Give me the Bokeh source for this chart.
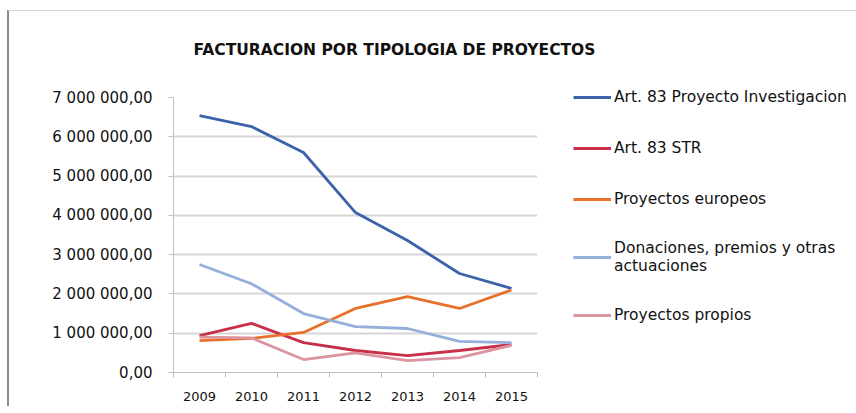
from bokeh.plotting import figure
from bokeh.models import FixedTicker, Legend, LegendItem, Range1d, Title
from bokeh.embed import file_html
from bokeh.resources import INLINE

title_text = "FACTURACION POR TIPOLOGIA DE PROYECTOS"
years = [2009, 2010, 2011, 2012, 2013, 2014, 2015]
year_labels = ["2009", "2010", "2011", "2012", "2013", "2014", "2015"]

art83_inv = [6540000, 6260000, 5600000, 4070000, 3360000, 2520000, 2140000]
art83_str = [940000, 1250000, 760000, 560000, 430000, 560000, 710000]
europeos = [810000, 870000, 1020000, 1630000, 1930000, 1630000, 2100000]
donaciones = [2750000, 2260000, 1500000, 1170000, 1120000, 790000, 760000]
propios = [900000, 880000, 330000, 500000, 300000, 380000, 690000]

series_names = [
    "Art. 83 Proyecto Investigacion",
    "Art. 83 STR",
    "Proyectos europeos",
    "Donaciones, premios y otras\nactuaciones",
    "Proyectos propios",
]
series_values = [art83_inv, art83_str, europeos, donaciones, propios]
series_colors = ["#3C62AA", "#C8304A", "#E8702A", "#94B0DA", "#DB95A0"]

y_ticks = [0, 1000000, 2000000, 3000000, 4000000, 5000000, 6000000, 7000000]
y_labels = ["0,00", "1 000 000,00", "2 000 000,00", "3 000 000,00",
            "4 000 000,00", "5 000 000,00", "6 000 000,00", "7 000 000,00"]

p = figure(frame_width=364, frame_height=275, output_backend="svg",
           toolbar_location=None,
           x_range=Range1d(2008.5, 2015.5), y_range=Range1d(0, 7000000),
           min_border_left=164, min_border_right=310, min_border_top=86,
           min_border_bottom=34)
p.styles = {"margin-left": "7px", "margin-top": "10px",
            "border-left": "2px solid #8C8C8C", "border-top": "1px solid #D6D6D6"}
p.outline_line_color = None
p.background_fill_color = "white"
p.border_fill_color = "white"

# spacer between title and plot area, then the title itself
spacer = Title(text=" ", text_font_size="1px", standoff=36)
p.add_layout(spacer, "above")
t = Title(text=title_text, align="left", offset=20, standoff=0,
          text_font="DejaVu Sans", text_font_size="15.5px",
          text_font_style="bold", text_color="#111111")
p.add_layout(t, "above")

renderers = []
for vals, col in zip(series_values, series_colors):
    r = p.line(years, vals, line_color=col, line_width=2.8)
    renderers.append(r)

# axes
p.xaxis.ticker = FixedTicker(ticks=years,
                             minor_ticks=[2008.5 + i for i in range(8)])
p.xaxis.major_label_overrides = {y: l for y, l in zip(years, year_labels)}
p.xaxis.major_tick_out = 0
p.xaxis.major_tick_in = 0
p.xaxis.minor_tick_out = 5
p.xaxis.minor_tick_in = 0
p.xaxis.minor_tick_line_color = "#BFBFBF"
p.xaxis.axis_line_color = "#BFBFBF"
p.xaxis.major_label_text_font = "DejaVu Sans"
p.xaxis.major_label_text_font_size = "13px"
p.xaxis.major_label_text_color = "#111111"
p.xaxis.major_label_standoff = 14

p.yaxis.ticker = FixedTicker(ticks=y_ticks)
p.yaxis.major_label_overrides = {v: l for v, l in zip(y_ticks, y_labels)}
p.yaxis.major_tick_out = 5
p.yaxis.major_tick_in = 0
p.yaxis.minor_tick_line_color = None
p.yaxis.major_tick_line_color = "#BFBFBF"
p.yaxis.axis_line_color = "#BFBFBF"
p.yaxis.major_label_text_font = "DejaVu Sans"
p.yaxis.major_label_text_font_size = "15px"
p.yaxis.major_label_text_color = "#111111"
p.yaxis.major_label_standoff = 16

p.xgrid.grid_line_color = None
p.ygrid.grid_line_color = "#D6D6D6"
p.ygrid.grid_line_width = 2

items = [LegendItem(label=n, renderers=[r]) for n, r in zip(series_names, renderers)]
legend = Legend(items=items, location=(36, 46), margin=0, padding=0,
                glyph_width=38, glyph_height=22, label_standoff=3,
                label_height=22, spacing=29,
                label_text_font="DejaVu Sans", label_text_font_size="15.5px",
                label_text_line_height=1.0,
                label_text_color="#111111",
                border_line_color=None, background_fill_alpha=0)
p.add_layout(legend, "right")

open("out.html", "w").write(file_html(p, INLINE))
